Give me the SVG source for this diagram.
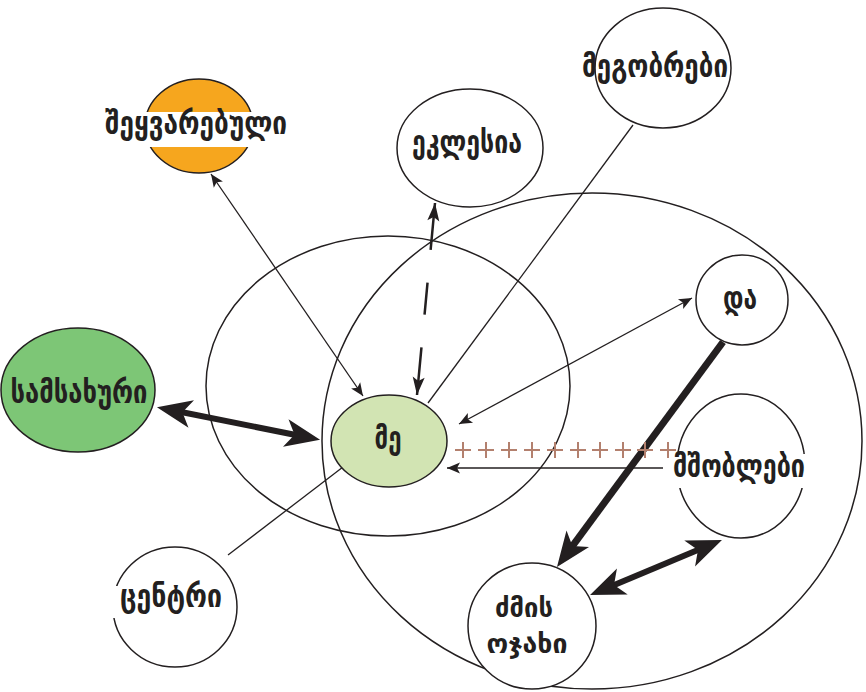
<svg xmlns="http://www.w3.org/2000/svg" width="866" height="692" viewBox="0 0 866 692">
<style>
.n{fill:#fff;stroke:#231f20;stroke-width:1.5}
.t{font-family:"DejaVu Sans",sans-serif;font-weight:bold;font-size:32px;fill:#231f20;text-anchor:middle}
.s{font-size:27px}
.thin{stroke:#231f20;stroke-width:1.3;fill:none}
.thick{stroke:#231f20;stroke-width:6;fill:none}
</style>
<defs>
<marker id="ah" markerUnits="userSpaceOnUse" orient="auto-start-reverse" refX="0" refY="0" overflow="visible" markerWidth="20" markerHeight="20">
<path d="M0,0 L-13,-5.5 L-10,0 L-13,5.5 Z" fill="#231f20"/>
</marker>
<marker id="ahd" markerUnits="userSpaceOnUse" orient="auto-start-reverse" refX="0" refY="0" overflow="visible" markerWidth="20" markerHeight="20">
<path d="M0,0 L-18,-6 L-14,0 L-18,6 Z" fill="#231f20"/>
</marker>
<marker id="ahb" markerUnits="userSpaceOnUse" orient="auto-start-reverse" refX="0" refY="0" overflow="visible" markerWidth="40" markerHeight="40">
<path d="M12,0 L-23,-14 L-14,0 L-23,14 Z" fill="#231f20"/>
</marker>
</defs>
<g id="big-circles">
<ellipse cx="592" cy="441" rx="270" ry="248" class="n" style="fill:none"/>
<ellipse cx="388" cy="386" rx="182" ry="150" class="n" style="fill:none"/>
</g>
<g id="connectors">
<line x1="633" y1="125" x2="428" y2="403" class="thin"/>
<line x1="228" y1="555" x2="343" y2="467" class="thin"/>
<line x1="211" y1="174" x2="363" y2="396" class="thin" marker-start="url(#ah)" marker-end="url(#ah)"/>
<line x1="692" y1="298" x2="459" y2="424" class="thin" marker-start="url(#ah)" marker-end="url(#ah)"/>
<line x1="663" y1="468" x2="447" y2="468" class="thin" marker-end="url(#ah)"/>
<line x1="435" y1="203" x2="417" y2="395" stroke="#231f20" stroke-width="2.5" stroke-dasharray="47 33 32 33 60" marker-start="url(#ahd)" marker-end="url(#ahd)"/>
<line x1="168.7" y1="409.5" x2="308.3" y2="437.5" class="thick" marker-start="url(#ahb)" marker-end="url(#ahb)"/>
<line x1="723" y1="342" x2="564.1" y2="557.3" class="thick" style="stroke-width:7" marker-end="url(#ahb)"/>
<line x1="710.9" y1="544.6" x2="601.1" y2="590.4" class="thick" marker-start="url(#ahb)" marker-end="url(#ahb)"/>
<path d="M455,450h16M463,442v16M478,450h16M486,442v16M501,450h16M509,442v16M524,450h16M532,442v16M547,450h16M555,442v16M570,450h16M578,442v16M592,450h16M600,442v16M615,450h16M623,442v16M637,450h16M645,442v16M660,450h16M668,442v16" stroke="#b3806e" stroke-width="2" fill="none"/>
</g>
<g id="me">
<ellipse cx="389" cy="441" rx="58" ry="46" class="n" style="fill:#d2e4b3"/>
<text x="388" y="449" class="t" textLength="27" lengthAdjust="spacingAndGlyphs">მე</text>
</g>
<g id="samsakhuri">
<ellipse cx="78" cy="390" rx="77" ry="62" class="n" style="fill:#7dc676"/>
<text x="79" y="403" class="t" textLength="137" lengthAdjust="spacingAndGlyphs">სამსახური</text>
</g>
<g id="sheyvarebuli">
<ellipse cx="199" cy="126" rx="54" ry="47" class="n" style="fill:#f6a61e"/>
<rect x="140" y="112" width="120" height="35" fill="#fff"/>
<text x="196" y="134" class="t" textLength="182" lengthAdjust="spacingAndGlyphs">შეყვარებული</text>
</g>
<g id="ekklesia">
<ellipse cx="470" cy="148" rx="73" ry="59" class="n"/>
<text x="467" y="153" class="t" textLength="110" lengthAdjust="spacingAndGlyphs">ეკლესია</text>
</g>
<g id="megobrebi">
<ellipse cx="663" cy="68" rx="68" ry="60" class="n"/>
<text x="655" y="77" class="t" textLength="146" lengthAdjust="spacingAndGlyphs">მეგობრები</text>
</g>
<g id="da">
<ellipse cx="742" cy="300" rx="46" ry="45" class="n"/>
<text x="740" y="309" class="t" textLength="34" lengthAdjust="spacingAndGlyphs">და</text>
</g>
<g id="mshoblebi">
<ellipse cx="741" cy="466" rx="64" ry="72" class="n"/>
<rect x="671" y="454" width="136" height="34" fill="#fff"/>
<text x="739" y="477" class="t" textLength="132" lengthAdjust="spacingAndGlyphs">მშობლები</text>
</g>
<g id="dzmis-ojakhi">
<ellipse cx="532" cy="626" rx="64" ry="63" class="n"/>
<text x="524" y="617" class="t s" textLength="58" lengthAdjust="spacingAndGlyphs">ძმის</text>
<text x="527" y="653" class="t s" textLength="81" lengthAdjust="spacingAndGlyphs">ოჯახი</text>
</g>
<g id="centri">
<ellipse cx="175" cy="607" rx="62" ry="60" class="n"/>
<rect x="111" y="586" width="112" height="32" fill="#fff"/>
<text x="171" y="607" class="t" textLength="102" lengthAdjust="spacingAndGlyphs">ცენტრი</text>
</g>
</svg>
